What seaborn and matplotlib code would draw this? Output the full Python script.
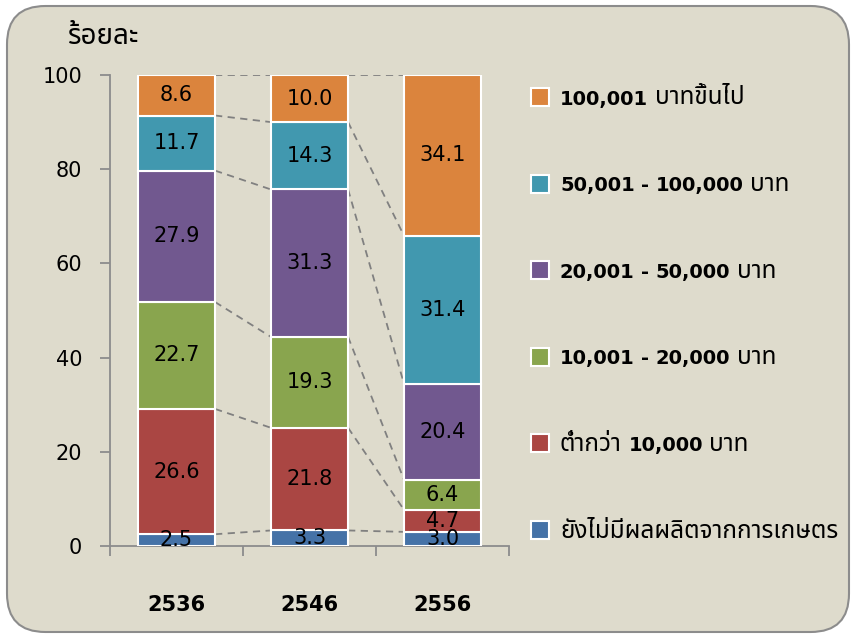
import numpy as np
import pandas as pd
import seaborn as sns
import matplotlib
matplotlib.use("Agg")
import matplotlib.pyplot as plt
from matplotlib import font_manager
from matplotlib.ft2font import FT2Font
from matplotlib.patches import Rectangle, FancyBboxPatch

# --- data ---
years = ['2536', '2546', '2556']
groups = ['ยังไม่มีผลผลิตจากการเกษตร', 'ต่ำกว่า 10,000 บาท', '10,001 - 20,000 บาท',
          '20,001 - 50,000 บาท', '50,001 - 100,000 บาท', '100,001 บาทขึ้นไป']
no_output = [2.5, 3.3, 3.0]
under_10k = [26.6, 21.8, 4.7]
from_10k = [22.7, 19.3, 6.4]
from_20k = [27.9, 31.3, 20.4]
from_50k = [11.7, 14.3, 31.4]
over_100k = [8.6, 10.0, 34.1]
colors = ['#4572A7', '#AA4643', '#89A54E', '#71588F', '#4198AF', '#DB843D']
y_ticks = [0, 20, 40, 60, 80, 100]

series = [no_output, under_10k, from_10k, from_20k, from_50k, over_100k]

# --- a font with Thai glyphs ---
thai_fonts = []
for f in font_manager.fontManager.ttflist:
    try:
        if ord('ร') in FT2Font(f.fname).get_charmap():
            thai_fonts.append(f.name)
    except Exception:
        pass
thai_fonts = sorted(set(thai_fonts), key=lambda n: (('Looped' in n), ('Serif' in n), n != 'Noto Sans Thai'))

sns.set_style('white')
plt.rcParams['font.family'] = ['DejaVu Sans'] + thai_fonts[:1]
plt.rcParams['text.color'] = 'black'
plt.rcParams['xtick.color'] = 'black'
plt.rcParams['ytick.color'] = 'black'

W, H = 853, 637
bg = '#DEDBCC'
fig = plt.figure(figsize=(W / 100, H / 100), dpi=100, facecolor='white')
frame = FancyBboxPatch((7 / W, 5 / H), 842 / W, 626 / H,
                       boxstyle='round,pad=0,rounding_size=0.045',
                       transform=fig.transFigure, facecolor=bg, zorder=-5,
                       edgecolor='#8C8C8C', linewidth=1.5, mutation_aspect=W / H)
fig.patches.append(frame)

ax = fig.add_axes([110 / W, 1 - 546 / H, 399 / W, 471 / H])
ax.set_facecolor('none')

df = pd.DataFrame({g: v for g, v in zip(groups, series)}, index=years)
bottoms = np.zeros(len(years))
for g, c in zip(groups, colors):
    sns.barplot(x=years, y=df[g].values, bottom=bottoms, color=c, width=0.58, saturation=1,
                edgecolor='white', linewidth=1.5, errorbar=None, ax=ax, zorder=3)
    bottoms = bottoms + df[g].values

for cont in ax.containers:
    ax.bar_label(cont, fmt='%.1f', label_type='center', fontsize=15, zorder=4)

# dashed series lines between bars
cum = df.cumsum(axis=1)
half = 0.29
for g in groups:
    vals = cum[g].values
    for i in range(len(years) - 1):
        ax.plot([i + half, i + 1 - half], [vals[i], vals[i + 1]], color='#808080',
                linestyle=(0, (4, 3)), linewidth=1.3, zorder=2)

ax.set_xlim(-0.5, 2.5)
ax.set_ylim(0, 100)
ax.set_yticks(y_ticks)
ax.set_yticklabels([str(t) for t in y_ticks], fontsize=15)
ax.set_xticks([-0.5, 0.5, 1.5, 2.5])
ax.set_xticklabels([])
ax.set_xticks([0, 1, 2], minor=True)
ax.set_xticklabels(years, minor=True, fontsize=15, fontweight='bold')
ax.tick_params(axis='x', which='major', bottom=True, length=7, color='#8C8C8C', width=1.3, direction='out')
ax.tick_params(axis='x', which='minor', bottom=True, length=0, pad=35)
ax.tick_params(axis='y', left=True, length=7, color='#8C8C8C', width=1.3, direction='out', pad=13)
ax.set_xlabel('')
ax.set_ylabel('')
for s in ['top', 'right']:
    ax.spines[s].set_visible(False)
for s in ['left', 'bottom']:
    ax.spines[s].set_color('#8C8C8C')
    ax.spines[s].set_linewidth(1.3)


# mixed Thai / Latin text: Thai runs get a larger size so they read like the original
def is_thai(ch):
    return '\u0e00' <= ch <= '\u0e7f'


def draw_runs(x_px, base_px, text, size=14, thai_size=17.5, weight='bold'):
    renderer = fig.canvas.get_renderer()
    runs = []
    for ch in text:
        kind = 'space' if ch == ' ' else ('thai' if is_thai(ch) else 'latin')
        if runs and runs[-1][0] == kind:
            runs[-1][1] += ch
        else:
            runs.append([kind, ch])
    x = x_px
    for kind, run in runs:
        if kind == 'space':
            x += 6.5 * len(run)
            continue
        fam = thai_fonts[:1] + ['DejaVu Sans'] if kind == 'thai' else ['DejaVu Sans']
        t = fig.text(x / W, 1 - base_px / H, run, fontsize=thai_size if kind == 'thai' else size,
                     fontweight=weight, family=fam, ha='left', va='baseline')
        x = t.get_window_extent(renderer).x1


draw_runs(68, 44, 'ร้อยละ', thai_size=20)

# legend on the right, top entry first
row_step = 86.6
for k, (g, c) in enumerate(zip(groups[::-1], colors[::-1])):
    yc = 97 + k * row_step
    fig.patches.append(Rectangle((531 / W, 1 - (yc + 9) / H), 18 / W, 18 / H,
                                 transform=fig.transFigure, facecolor=c,
                                 edgecolor='white', linewidth=1.5))
    draw_runs(560, yc + 7.5, g)

fig.savefig('out.png', dpi=100, facecolor='white')
